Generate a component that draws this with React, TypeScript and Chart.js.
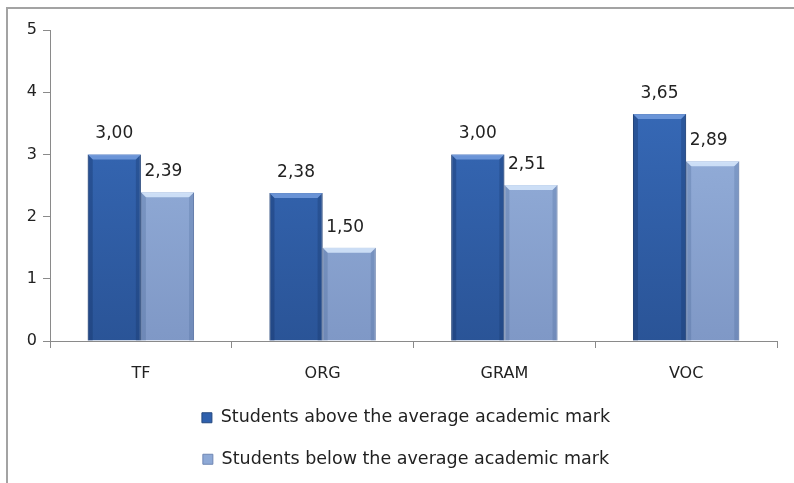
import React, { useEffect, useRef } from "react";
import { Chart, registerables } from "chart.js";

Chart.register(...registerables);

const categories = ["TF", "ORG", "GRAM", "VOC"];
const seriesNames = [
  "Students above the average academic mark",
  "Students below the average academic mark",
];
const aboveValues = [3.0, 2.38, 3.0, 3.65];
const belowValues = [2.39, 1.5, 2.51, 2.89];
const yTicks = [0, 1, 2, 3, 4, 5];

const FONT = "'DejaVu Sans', sans-serif";

function makeGradient(chart: any, top: string, bottom: string, fallback: string) {
  const area = chart.chartArea;
  if (!area) return fallback;
  const g = chart.ctx.createLinearGradient(0, area.top, 0, area.bottom);
  g.addColorStop(0, top);
  g.addColorStop(1, bottom);
  return g;
}

const valueLabels = {
  id: "valueLabels",
  afterDatasetsDraw(chart: any) {
    const ctx = chart.ctx;
    ctx.save();
    ctx.font = `17px ${FONT}`;
    ctx.fillStyle = "#222";
    ctx.textAlign = "center";
    ctx.textBaseline = "bottom";
    chart.data.datasets.forEach((ds: any, di: number) => {
      const meta = chart.getDatasetMeta(di);
      meta.data.forEach((bar: any, i: number) => {
        const v = ds.data[i] as number;
        const txt = v.toFixed(2).replace(".", ",");
        const dx = di === 1 ? -4 : 0;
        ctx.fillText(txt, bar.x + dx, bar.y - 12);
      });
    });
    ctx.restore();
  },
};

const bevel = {
  id: "bevel",
  afterDatasetsDraw(chart: any) {
    const ctx = chart.ctx;
    ctx.save();
    chart.data.datasets.forEach((_ds: any, di: number) => {
      const meta = chart.getDatasetMeta(di);
      meta.data.forEach((bar: any) => {
        const w = bar.width;
        const l = bar.x - w / 2;
        const r = bar.x + w / 2;
        const t = bar.y;
        const b = bar.base;
        const s = 5;
        ctx.fillStyle = di === 0 ? "rgba(120,160,225,0.8)" : "rgba(215,232,252,0.85)";
        ctx.beginPath();
        ctx.moveTo(l, t);
        ctx.lineTo(r, t);
        ctx.lineTo(r - s, t + s);
        ctx.lineTo(l + s, t + s);
        ctx.closePath();
        ctx.fill();
        ctx.fillStyle = di === 0 ? "rgba(20,50,100,0.35)" : "rgba(60,90,140,0.25)";
        ctx.beginPath();
        ctx.moveTo(l, t);
        ctx.lineTo(l + s, t + s);
        ctx.lineTo(l + s, b);
        ctx.lineTo(l, b);
        ctx.closePath();
        ctx.fill();
        ctx.fillStyle = di === 0 ? "rgba(20,50,100,0.3)" : "rgba(60,90,140,0.22)";
        ctx.beginPath();
        ctx.moveTo(r, t);
        ctx.lineTo(r - s, t + s);
        ctx.lineTo(r - s, b);
        ctx.lineTo(r, b);
        ctx.closePath();
        ctx.fill();
      });
    });
    ctx.restore();
  },
};

// shift the legend so it is centred like the reference
const legendShift = {
  id: "legendShift",
  afterLayout(chart: any) {
    if (chart.legend) chart.legend.left = 35;
  },
};

export default function App() {
  const ref = useRef<HTMLCanvasElement>(null);

  useEffect(() => {
    if (!ref.current) return;
    const chart = new Chart(ref.current, {
      type: "bar",
      data: {
        labels: categories,
        datasets: [
          {
            label: seriesNames[0],
            data: aboveValues,
            backgroundColor: (c: any) => makeGradient(c.chart, "#3a6fc0", "#2a5497", "#2f60ad"),
            borderColor: "#24477f",
            borderWidth: 1,
            borderSkipped: "bottom",
          },
          {
            label: seriesNames[1],
            data: belowValues,
            backgroundColor: (c: any) => makeGradient(c.chart, "#9db8e2", "#7f98c6", "#8ea9d6"),
            borderColor: "#6f86b3",
            borderWidth: 1,
            borderSkipped: "bottom",
          },
        ],
      },
      options: {
        animation: false,
        responsive: false,
        maintainAspectRatio: false,
        layout: { padding: { top: 30, right: 17, left: 0, bottom: 5 } },
        datasets: {
          bar: { categoryPercentage: 0.585, barPercentage: 1 },
        },
        scales: {
          x: {
            afterFit: (scale: any) => {
              scale.height = 44;
            },
            grid: {
              display: true,
              drawOnChartArea: false,
              drawTicks: true,
              tickLength: 7,
              color: "#8a8a8a",
              offset: true,
            },
            border: { display: true, color: "#8a8a8a", width: 1 },
            ticks: {
              font: { family: FONT, size: 16 },
              color: "#222",
              padding: 16,
            },
          },
          y: {
            min: 0,
            max: 5,
            afterBuildTicks: (scale: any) => {
              scale.ticks = yTicks.map((v) => ({ value: v }));
            },
            afterFit: (scale: any) => {
              scale.width = 50;
            },
            grid: {
              display: true,
              drawOnChartArea: false,
              drawTicks: true,
              tickLength: 7,
              color: "#8a8a8a",
            },
            border: { display: true, color: "#8a8a8a", width: 1 },
            ticks: {
              font: { family: FONT, size: 16 },
              color: "#222",
              padding: 6,
              callback: (v: any) => String(v),
            },
          },
        },
        plugins: {
          legend: {
            position: "bottom",
            maxWidth: 480,
            labels: {
              font: { family: FONT, size: 17.5 },
              color: "#222",
              boxWidth: 10,
              boxHeight: 10,
              padding: 24,
              generateLabels: (ch: any) =>
                ch.data.datasets.map((ds: any, i: number) => ({
                  text: ds.label,
                  fillStyle: i === 0 ? "#2f60ad" : "#8ea9d6",
                  strokeStyle: i === 0 ? "#24477f" : "#6f86b3",
                  lineWidth: 1,
                  datasetIndex: i,
                  hidden: false,
                  fontColor: "#222",
                })),
            },
          },
          tooltip: { enabled: false },
        },
      },
      plugins: [bevel, valueLabels, legendShift],
    });
    return () => chart.destroy();
  }, []);

  return (
    <div style={{ position: "absolute", left: 0, top: 0, width: 794, height: 483, background: "#fff", overflow: "hidden" }}>
      <div
        style={{
          position: "absolute",
          left: 6,
          top: 7,
          width: 800,
          height: 490,
          borderLeft: "2px solid #a3a3a3",
          borderTop: "2px solid #a3a3a3",
        }}
      />
      <canvas ref={ref} width={794} height={483} style={{ position: "absolute", left: 0, top: 0, width: 794, height: 483 }} />
    </div>
  );
}
